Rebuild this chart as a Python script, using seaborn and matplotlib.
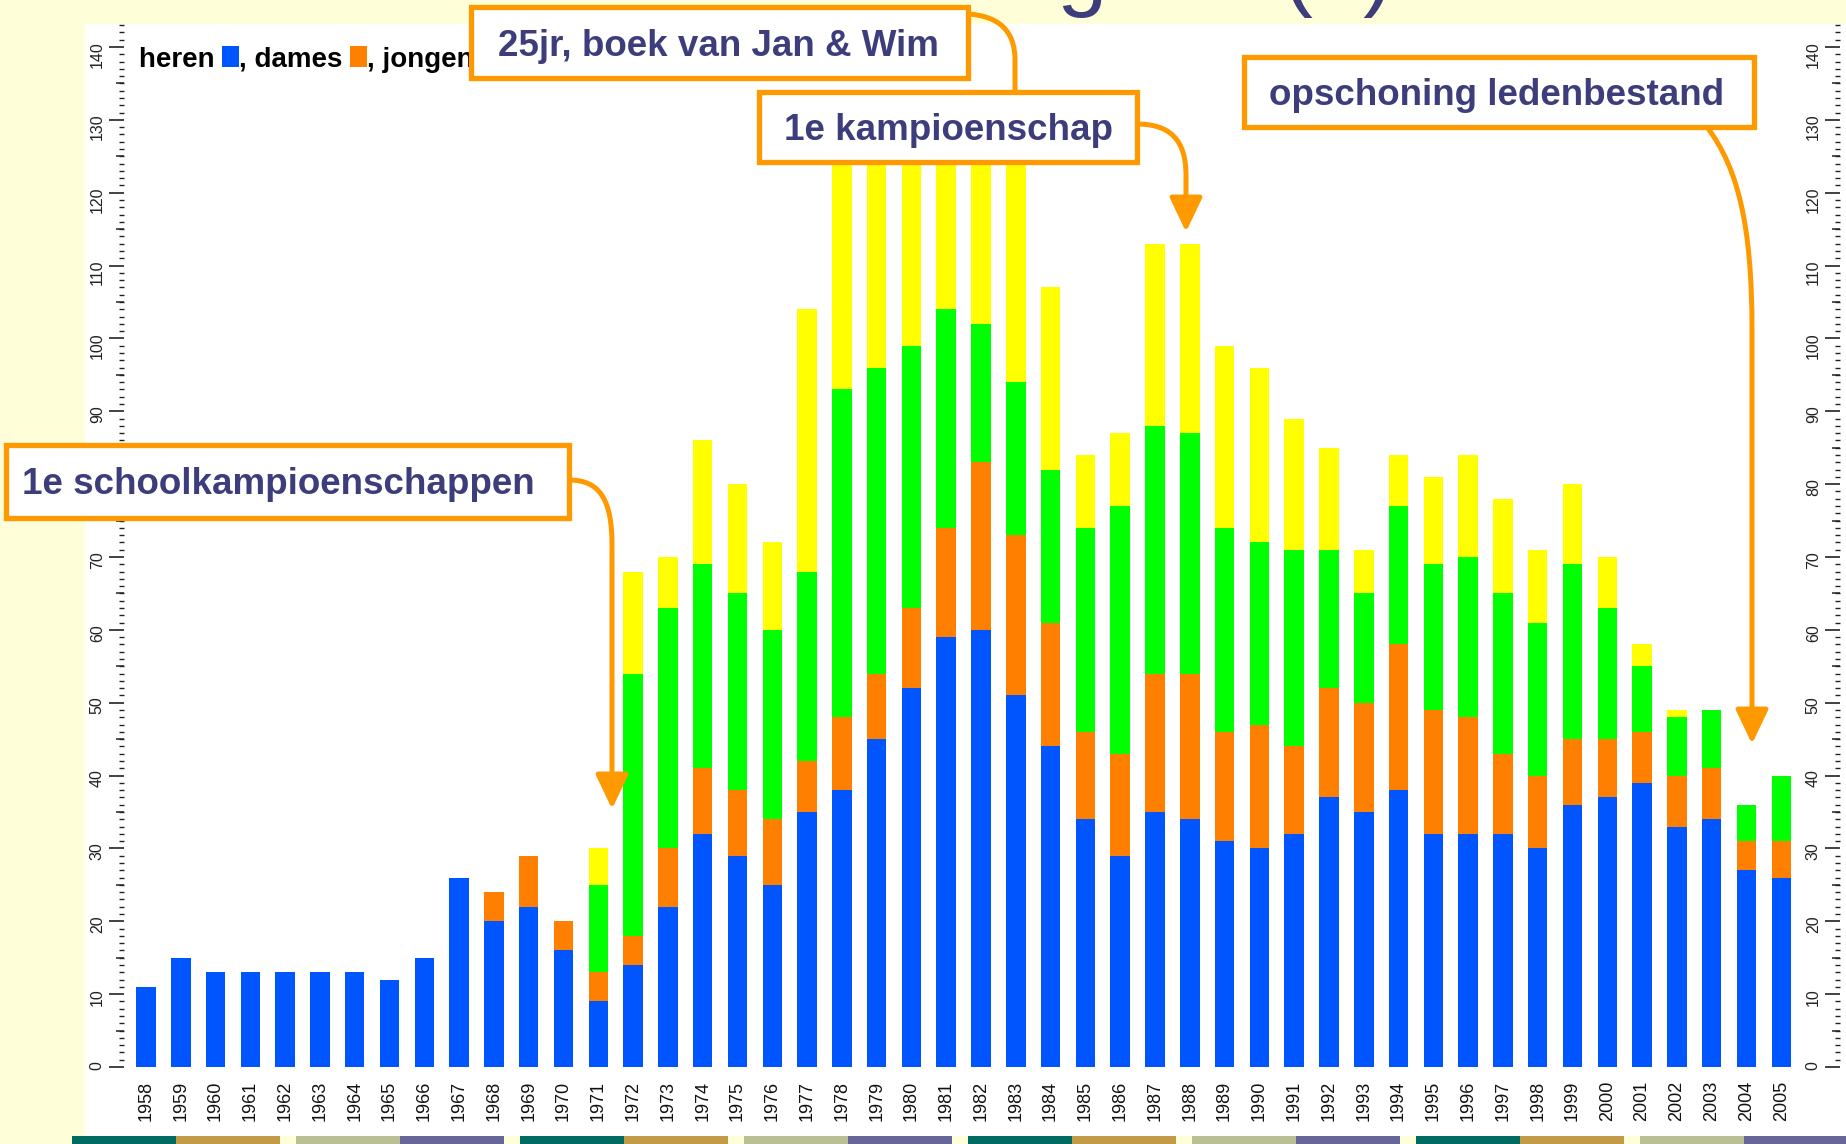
import matplotlib
matplotlib.use('Agg')  # Non-interactive backend
import matplotlib.pyplot as plt
import seaborn as sns
import numpy as np
from matplotlib.patches import Rectangle, FancyArrowPatch
from matplotlib.path import Path
from matplotlib.transforms import Affine2D
from matplotlib.offsetbox import HPacker, TextArea, DrawingArea, AnchoredOffsetbox
from matplotlib.ticker import MultipleLocator, FixedLocator

sns.set_theme(style="white")
plt.rcParams['font.family'] = ['Liberation Sans', 'DejaVu Sans']

# --- data -----------------------------------------------------------------
years = ['1958', '1959', '1960', '1961', '1962', '1963', '1964', '1965', '1966', '1967',
         '1968', '1969', '1970', '1971', '1972', '1973', '1974', '1975', '1976', '1977',
         '1978', '1979', '1980', '1981', '1982', '1983', '1984', '1985', '1986', '1987',
         '1988', '1989', '1990', '1991', '1992', '1993', '1994', '1995', '1996', '1997',
         '1998', '1999', '2000', '2001', '2002', '2003', '2004', '2005']
heren = [11, 15, 13, 13, 13, 13, 13, 12, 15, 26,
         20, 22, 16, 9, 14, 22, 32, 29, 25, 35,
         38, 45, 52, 59, 60, 51, 44, 34, 29, 35,
         34, 31, 30, 32, 37, 35, 38, 32, 32, 32,
         30, 36, 37, 39, 33, 34, 27, 26]
dames = [0, 0, 0, 0, 0, 0, 0, 0, 0, 0,
         4, 7, 4, 4, 4, 8, 9, 9, 9, 7,
         10, 9, 11, 15, 23, 22, 17, 12, 14, 19,
         20, 15, 17, 12, 15, 15, 20, 17, 16, 11,
         10, 9, 8, 7, 7, 7, 4, 5]
jongens = [0, 0, 0, 0, 0, 0, 0, 0, 0, 0,
           0, 0, 0, 12, 36, 33, 28, 27, 26, 26,
           45, 42, 36, 30, 19, 21, 21, 28, 34, 34,
           33, 28, 25, 27, 19, 15, 19, 20, 22, 22,
           21, 24, 18, 9, 8, 8, 5, 9]
meisjes = [0, 0, 0, 0, 0, 0, 0, 0, 0, 0,
           0, 0, 0, 5, 14, 7, 17, 15, 12, 36,
           33, 32, 30, 27, 28, 33, 25, 10, 10, 25,
           26, 25, 24, 18, 14, 6, 7, 12, 14, 13,
           10, 11, 7, 3, 1, 0, 0, 0]

series_names = ['heren', 'dames', 'jongens', 'meisjes']
series_colors = ['#0055FF', '#FF8000', '#00FF00', '#FFFF00']

# --- style ----------------------------------------------------------------
W, H = 1846, 1144
ORANGE = '#FF9900'
TXT = '#3D3D7B'
BG = '#FEFED8'
YMAX = 143.15

fig = plt.figure(figsize=(W / 100, H / 100), dpi=100, facecolor=BG)
PX = Affine2D().scale(1 / W, -1 / H).translate(0, 1) + fig.transFigure


def fx(x):
    return x / W


def fy(y):
    return 1 - y / H


# white slide area and decorative strip
fig.patches.append(Rectangle((85, 24), W - 85, 1136 - 24, transform=PX,
                             fc='white', ec='none', zorder=-5))
strip_cols = ['#006B63', '#C39B47', None, '#BBBF94', '#666699', None]
strip_w = [104, 104, 16, 104, 104, 16]
x0, k = 72, 0
while x0 < W:
    c = strip_cols[k % 6]
    if c:
        fig.patches.append(Rectangle((x0, 1136), strip_w[k % 6], 8, transform=PX,
                                     fc=c, ec='none', zorder=-4))
    x0 += strip_w[k % 6]
    k += 1

# slide title (mostly cut off at the top)
fig.text(fx(806), fy(-1), 'Ledengroei (1)', fontsize=65, color=TXT,
         ha='left', va='baseline')

# --- stacked bars -----------------------------------------------------------
ax = fig.add_axes([fx(85), fy(1067), (W - 85) / W, (1067 - 24) / H])
ax.patch.set_alpha(0)

stack = np.cumsum(np.array([heren, dames, jongens, meisjes]), axis=0)
for level in range(3, -1, -1):
    sns.barplot(x=years, y=stack[level], color=series_colors[level], saturation=1,
                width=0.56, linewidth=0, errorbar=None, ax=ax)

ax.set_xlim(-1.753, 48.86)
ax.set_ylim(0, YMAX)
ax.set_xlabel('')
ax.set_ylabel('')
ax.set_yticks([])
for s in ax.spines.values():
    s.set_visible(False)
ax.tick_params(axis='x', length=0, pad=10, labelsize=13, labelrotation=90,
               labelcolor='#111111')


# rulers (left and right)
def add_ruler(x_px):
    r = fig.add_axes([fx(x_px), fy(1067), 0.0001, (1067 - 24) / H])
    r.set_ylim(0, YMAX)
    r.set_xticks([])
    r.patch.set_alpha(0)
    for s in r.spines.values():
        s.set_visible(False)
    r.yaxis.set_major_locator(MultipleLocator(10))
    r.yaxis.set_minor_locator(MultipleLocator(1))
    r.tick_params(axis='y', which='major', left=True, length=10.8, width=1.2,
                  direction='out', labelsize=11.5, labelrotation=90, pad=3,
                  colors='#222222')
    r.tick_params(axis='y', which='minor', left=True, length=3.6, width=1.0,
                  direction='out', colors='#222222')
    r2 = fig.add_axes([fx(x_px), fy(1067), 0.0001, (1067 - 24) / H])
    r2.set_ylim(0, YMAX)
    r2.set_xticks([])
    r2.patch.set_alpha(0)
    for s in r2.spines.values():
        s.set_visible(False)
    r2.yaxis.set_major_locator(FixedLocator(np.arange(5, 145, 10)))
    r2.tick_params(axis='y', which='major', left=True, length=5.8, width=1.1,
                   direction='out', labelleft=False, colors='#222222')


add_ruler(124)
add_ruler(1840)

# legend line: "heren [], dames [], ..."
lg_children = []
for i, (name, col) in enumerate(zip(series_names, series_colors)):
    lbl = name + ' ' if i == 0 else ', ' + name + ' '
    lg_children.append(TextArea(lbl, textprops=dict(fontsize=20, weight='bold', color='black')))
    da = DrawingArea(12.2, 15, 0, 0)
    da.add_artist(Rectangle((0, 0), 12.2, 15, fc=col, ec='none'))
    lg_children.append(da)
lg = AnchoredOffsetbox(loc='upper left', child=HPacker(children=lg_children, sep=0, pad=0, align='baseline'),
                       pad=0, borderpad=0, frameon=False,
                       bbox_to_anchor=(fx(139), fy(46)), bbox_transform=fig.transFigure)
lg.set_zorder(3)
fig.add_artist(lg)


# --- annotations ------------------------------------------------------------
def connector(pts, arrow=True):
    codes = [Path.MOVETO, Path.CURVE4, Path.CURVE4, Path.CURVE4, Path.LINETO]
    style = '-|>,head_length=21,head_width=10' if arrow else '-'
    p = FancyArrowPatch(path=Path(pts, codes), arrowstyle=style, mutation_scale=1,
                        color=ORANGE, lw=3.6, shrinkA=0, shrinkB=0,
                        transform=PX, zorder=6)
    fig.add_artist(p)


connector([(569, 480), (600, 480), (612, 500), (612, 545), (612, 809)])
connector([(968, 14), (1000, 16), (1015, 32), (1015, 60), (1015, 95)], arrow=False)
connector([(1137, 124), (1170, 124), (1186, 140), (1186, 175), (1186, 232)])
connector([(1707, 127), (1738, 168), (1752, 225), (1752, 330), (1752, 744)])

boxes = [
    ('1e schoolkampioenschappen', (6, 445, 569, 518), 278),
    ('25jr, boek van Jan & Wim', (471, 7, 968, 78), 718),
    ('1e kampioenschap', (759, 92, 1137, 162), 949),
    ('opschoning ledenbestand', (1244, 57, 1754, 127), 1497),
]
for label, (l, t, r, b), tx in boxes:
    fig.patches.append(Rectangle((l, t), r - l, b - t, transform=PX, fc='white',
                                 ec=ORANGE, lw=3.8, zorder=9))
    fig.text(fx(tx), fy((t + b) / 2 + 13), label, ha='center', va='baseline',
             fontsize=26.5, weight='bold', color=TXT, zorder=10)

fig.savefig('out.png', dpi=100, facecolor=fig.get_facecolor())
